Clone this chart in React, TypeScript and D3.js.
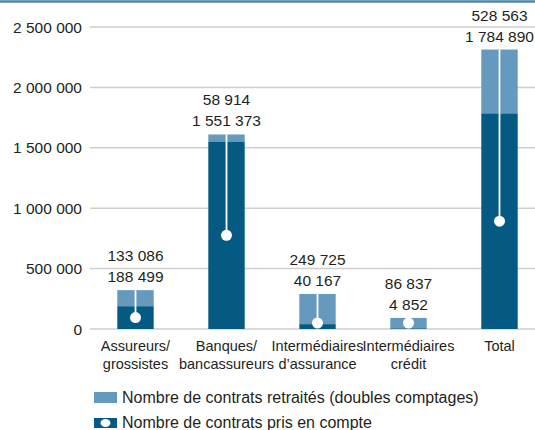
import React from 'react';
import * as d3 from 'd3';

const categories = ['Assureurs/\ngrossistes', 'Banques/\nbancassureurs', 'Intermédiaires\nd\u2019assurance', 'Intermédiaires\ncrédit', 'Total'];
const retained = [188499, 1551373, 40167, 4852, 1784890];
const restated = [133086, 58914, 249725, 86837, 528563];
const yTicks = [0, 500000, 1000000, 1500000, 2000000, 2500000];
const legendLabels = ['Nombre de contrats retraités (doubles comptages)', 'Nombre de contrats pris en compte'];

const DARK = '#045a82';
const LIGHT = '#6599bd';
const TEXT = '#231f20';
const FONT = '"Liberation Sans", Arial, sans-serif';

const fmt = (v: number) => d3.format(',')(v).replace(/,/g, ' ');

function App() {
    const width = 535;
    const height = 430;

    const x = d3.scaleBand<string>()
        .domain(categories)
        .range([90, 545])
        .paddingInner(0.6)
        .paddingOuter(0.3);

    const y = d3.scaleLinear()
        .domain([0, 2500000])
        .range([329, 27]);

    const bw = x.bandwidth();

    return (
        <svg width={width} height={height} style={{ position: 'absolute', left: 0, top: 0, fontFamily: FONT }}>
            <rect x={0} y={0} width={width} height={height} fill="#fff" />
            <line x1={0} x2={width} y1={1.5} y2={1.5} stroke="#4d87a9" strokeWidth={2.5} />

            {yTicks.map(t => (
                <g key={t}>
                    <line x1={90} x2={width} y1={y(t)} y2={y(t)} stroke="#cfcfcf" strokeWidth={1.5} />
                    <text x={82} y={y(t)} dy="0.36em" textAnchor="end" fontSize={15.5} fill={TEXT}>{fmt(t)}</text>
                </g>
            ))}

            {categories.map((c, i) => {
                const x0 = x(c) as number;
                const cx = x0 + bw / 2;
                const yBase = y(0);
                const yDark = y(retained[i]);
                const yTop = y(retained[i] + restated[i]);
                const yDot = Math.min(y(retained[i] / 2), yBase - 6);
                return (
                    <g key={c}>
                        <rect x={x0} y={yTop} width={bw} height={yDark - yTop} fill={LIGHT} />
                        <rect x={x0} y={yDark} width={bw} height={yBase - yDark} fill={DARK} />
                        <line x1={cx} x2={cx} y1={yTop} y2={yDot} stroke="#fff" strokeWidth={1.8} />
                        <circle cx={cx} cy={yDot} r={5.5} fill="#fff" />
                        <text x={cx} y={yTop - 29} textAnchor="middle" fontSize={15.5} fill={TEXT}>{fmt(restated[i])}</text>
                        <text x={cx} y={yTop - 8} textAnchor="middle" fontSize={15.5} fill={TEXT}>{fmt(retained[i])}</text>
                        {c.split('\n').map((line, j) => (
                            <text key={j} x={cx} y={351 + j * 18} textAnchor="middle" fontSize={14.5} fill={TEXT}>{line}</text>
                        ))}
                    </g>
                );
            })}

            <rect x={94} y={392} width={23} height={11} fill={LIGHT} />
            <text x={122} y={403} fontSize={16} fill={TEXT}>{legendLabels[0]}</text>
            <rect x={94} y={418} width={23} height={10} fill={DARK} />
            <ellipse cx={105.5} cy={423} rx={5} ry={4} fill="#fff" />
            <text x={122} y={428} fontSize={16} fill={TEXT}>{legendLabels[1]}</text>
        </svg>
    );
}

export default App;
